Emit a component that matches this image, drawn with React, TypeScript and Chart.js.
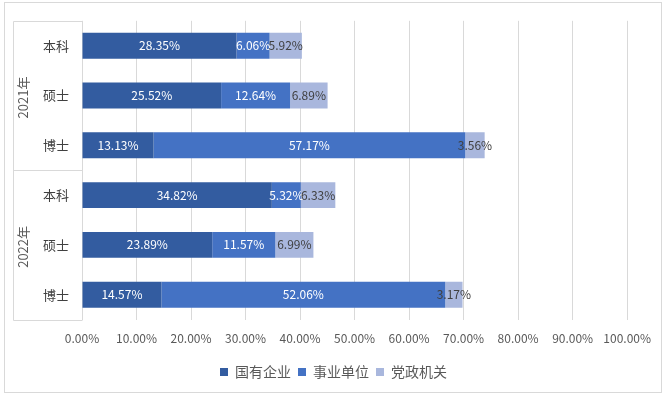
import React, { useEffect, useRef } from "react";
import { Chart, registerables } from "chart.js";

Chart.register(...registerables);

const years = ["2021年", "2022年"];
const degrees = ["本科", "硕士", "博士"];
const categories = ["2021年 本科", "2021年 硕士", "2021年 博士", "2022年 本科", "2022年 硕士", "2022年 博士"];
const seriesNames = ["国有企业", "事业单位", "党政机关"];
const stateOwned = [28.35, 25.52, 13.13, 34.82, 23.89, 14.57];
const publicInst = [6.06, 12.64, 57.17, 5.32, 11.57, 52.06];
const government = [5.92, 6.89, 3.56, 6.33, 6.99, 3.17];
const colors = ["#335CA0", "#4472C4", "#A9B7DD"];
const labelColors = ["#FFFFFF", "#FFFFFF", "#404040"];

const FONT = '"Noto Sans CJK SC", "Noto Sans", sans-serif';
const GRID = "#D9D9D9";

const fmt = (v: number) => `${v.toFixed(2)}%`;

const decorPlugin = {
  id: "decor",
  afterLayout(chart: any) {
    const lg = chart.legend;
    if (lg) {
      const dx = 13;
      lg.left += dx;
      lg.right += dx;
    }
  },
  beforeDraw(chart: any) {
    const ctx = chart.ctx;
    ctx.save();
    ctx.fillStyle = "#FFFFFF";
    ctx.fillRect(0, 0, chart.width, chart.height);
    ctx.strokeStyle = GRID;
    ctx.lineWidth = 1;
    ctx.strokeRect(4.5, 2.5, chart.width - 6, chart.height - 5);
    ctx.restore();
  },
  afterDraw(chart: any) {
    const ctx = chart.ctx;
    const area = chart.chartArea;
    const y = chart.scales.y;
    const left = 13.5;
    const right = Math.round(area.left) + 0.5;
    ctx.save();
    ctx.strokeStyle = GRID;
    ctx.lineWidth = 1;
    const groupSize = degrees.length;
    const nGroups = years.length;
    const step = (area.bottom - area.top) / categories.length;
    ctx.beginPath();
    ctx.moveTo(left, Math.round(area.top) + 0.5);
    ctx.lineTo(left, Math.round(area.bottom) + 0.5);
    for (let g = 0; g <= nGroups; g++) {
      const yy = Math.round(area.top + g * groupSize * step) + 0.5;
      ctx.moveTo(left, yy);
      ctx.lineTo(right, yy);
    }
    ctx.stroke();
    ctx.fillStyle = "#595959";
    ctx.font = `13px ${FONT}`;
    ctx.textAlign = "center";
    ctx.textBaseline = "middle";
    for (let g = 0; g < nGroups; g++) {
      const first = y.getPixelForValue(g * groupSize);
      const last = y.getPixelForValue(g * groupSize + groupSize - 1);
      const cy = (first + last) / 2 + 2;
      ctx.save();
      ctx.translate(23, cy);
      ctx.rotate(-Math.PI / 2);
      ctx.fillText(years[g], 0, 0);
      ctx.restore();
    }
    ctx.restore();
  },
  afterDatasetsDraw(chart: any) {
    const ctx = chart.ctx;
    ctx.save();
    ctx.font = `12px ${FONT}`;
    ctx.textAlign = "center";
    ctx.textBaseline = "middle";
    chart.data.datasets.forEach((ds: any, i: number) => {
      const meta = chart.getDatasetMeta(i);
      ctx.fillStyle = labelColors[i];
      meta.data.forEach((el: any, j: number) => {
        const cx = (el.x + el.base) / 2;
        ctx.fillText(fmt(ds.data[j]), cx, el.y);
      });
    });
    ctx.restore();
  },
};

export default function App() {
  const ref = useRef<HTMLCanvasElement | null>(null);
  useEffect(() => {
    document.body.style.margin = "0";
    const chart = new Chart(ref.current as HTMLCanvasElement, {
      type: "bar",
      data: {
        labels: categories,
        datasets: [
          { label: seriesNames[0], data: stateOwned, backgroundColor: colors[0] },
          { label: seriesNames[1], data: publicInst, backgroundColor: colors[1] },
          { label: seriesNames[2], data: government, backgroundColor: colors[2] },
        ],
      },
      options: {
        indexAxis: "y",
        animation: false,
        responsive: false,
        maintainAspectRatio: false,
        devicePixelRatio: 1,
        datasets: { bar: { categoryPercentage: 1, barPercentage: 0.52 } },
        layout: { padding: { left: 13, right: 35, top: 16, bottom: 6 } },
        scales: {
          x: {
            stacked: true,
            min: 0,
            max: 100,
            grid: { color: GRID, drawTicks: false },
            border: { display: false },
            ticks: {
              stepSize: 10,
              padding: 12,
              color: "#595959",
              font: { family: FONT, size: 12 },
              callback: (v: any) => fmt(Number(v)),
            },
          },
          y: {
            stacked: true,
            grid: { display: false, drawTicks: false },
            border: { display: false },
            afterFit: (s: any) => {
              s.width = 69;
            },
            ticks: {
              padding: 13,
              color: "#404040",
              font: { family: FONT, size: 13 },
              callback: (_v: any, i: number) => degrees[i % degrees.length],
            },
          },
        },
        plugins: {
          legend: {
            position: "bottom",
            labels: {
              boxWidth: 8,
              boxHeight: 8,
              padding: 7,
              color: "#595959",
              font: { family: FONT, size: 14 },
            },
          },
          tooltip: { enabled: false },
        },
      },
      plugins: [decorPlugin],
    });
    return () => chart.destroy();
  }, []);
  return (
    <div style={{ position: "fixed", left: 0, top: 0, width: 663, height: 395 }}>
      <canvas ref={ref} width={663} height={395} style={{ width: 663, height: 395 }} />
    </div>
  );
}
